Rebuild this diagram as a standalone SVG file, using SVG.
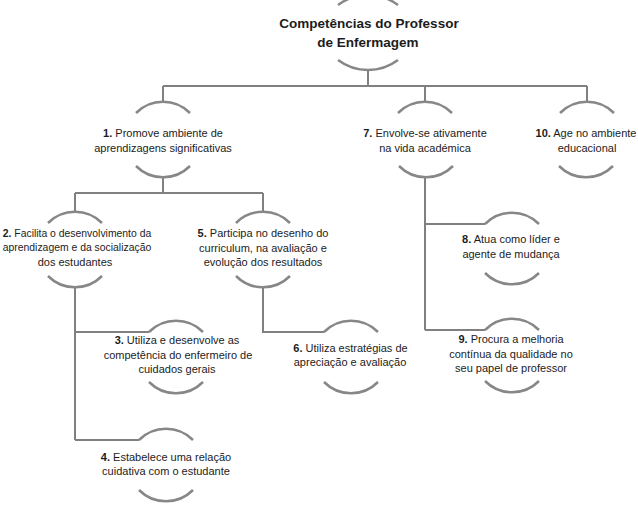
<svg xmlns="http://www.w3.org/2000/svg" xmlns:xlink="http://www.w3.org/1999/xlink" width="638" height="520" viewBox="0 0 638 520">
<style>
.arc{fill:none;stroke:#878787;stroke-width:2.5}
.ln{fill:none;stroke:#808080;stroke-width:2}
text{font-family:"Liberation Sans",Arial,sans-serif;font-size:11px;fill:#1c1c1c;text-anchor:middle}
.title{font-size:13.5px;font-weight:bold}
.b{font-weight:bold}
.sm{font-size:10.4px}
</style>
<defs>
<path id="top" class="arc" d="M-27,0 A38 38 0 0 1 27,0"/>
<path id="bot" class="arc" d="M-27,0 A38 38 0 0 0 27,0"/>
</defs>
<rect width="638" height="520" fill="#ffffff"/>
<g id="connectors">
<path class="ln" d="M368,70 V86 M163,86 H587 M163,86 V102 M425,86 V102 M587,86 V102"/>
<path class="ln" d="M163,177 V193 M75,193 H263 M75,193 V212 M263,193 V212"/>
<path class="ln" d="M75,287 V440 M75,332 H149 M75,440 H139"/>
<path class="ln" d="M263,287 V332 H324"/>
<path class="ln" d="M425,177 V330 M425,224 H485 M425,330 H485"/>
</g>
<g id="title">
<path class="arc" d="M338,5 A50 50 0 0 1 398,5"/>
<path class="arc" d="M338,60 A50 50 0 0 0 398,60"/>
<text class="title" x="369" y="28">Competências do Professor</text>
<text class="title" x="368" y="46.5">de Enfermagem</text>
</g>
<g id="n1">
<use xlink:href="#top" x="163" y="113"/>
<use xlink:href="#bot" x="163" y="166"/>
<text x="163" y="136.5"><tspan class="b">1.</tspan> Promove ambiente de</text>
<text x="163" y="151.5">aprendizagens significativas</text>
</g>
<g id="n7">
<use xlink:href="#top" x="425" y="113"/>
<use xlink:href="#bot" x="426" y="166"/>
<text x="425" y="137"><tspan class="b">7.</tspan> Envolve-se ativamente</text>
<text x="425" y="152">na vida académica</text>
</g>
<g id="n10">
<use xlink:href="#top" x="587" y="113"/>
<use xlink:href="#bot" x="586" y="166"/>
<text x="586" y="137"><tspan class="b">10.</tspan> Age no ambiente</text>
<text x="587" y="152">educacional</text>
</g>
<g id="n2">
<use xlink:href="#top" x="75" y="223"/>
<use xlink:href="#bot" x="75" y="276"/>
<text class="sm" x="77" y="236.5"><tspan class="b">2.</tspan> Facilita o desenvolvimento da</text>
<text class="sm" x="77" y="251">aprendizagem e da socialização</text>
<text x="75" y="265.5">dos estudantes</text>
</g>
<g id="n5">
<use xlink:href="#top" x="263" y="223"/>
<use xlink:href="#bot" x="263" y="276"/>
<text x="263" y="237"><tspan class="b">5.</tspan> Participa no desenho do</text>
<text x="263" y="251.5">curriculum, na avaliação e</text>
<text x="263" y="266">evolução dos resultados</text>
</g>
<g id="n3">
<use xlink:href="#top" x="176" y="332"/>
<use xlink:href="#bot" x="176" y="382"/>
<text x="177" y="344"><tspan class="b">3.</tspan> Utiliza e desenvolve as</text>
<text x="178" y="358.5">competência do enfermeiro de</text>
<text x="177" y="373">cuidados gerais</text>
</g>
<g id="n6">
<use xlink:href="#top" x="351" y="332"/>
<use xlink:href="#bot" x="351" y="382"/>
<text x="350.5" y="351.5"><tspan class="b">6.</tspan> Utiliza estratégias de</text>
<text x="350" y="366">apreciação e avaliação</text>
</g>
<g id="n4">
<use xlink:href="#top" x="166" y="440"/>
<use xlink:href="#bot" x="166" y="490"/>
<text x="166" y="460.5"><tspan class="b">4.</tspan> Estabelece uma relação</text>
<text x="166" y="475">cuidativa com o estudante</text>
</g>
<g id="n8">
<use xlink:href="#top" x="512" y="224"/>
<use xlink:href="#bot" x="512" y="273"/>
<text x="511" y="243"><tspan class="b">8.</tspan> Atua como líder e</text>
<text x="511" y="258">agente de mudança</text>
</g>
<g id="n9">
<use xlink:href="#top" x="512" y="330"/>
<use xlink:href="#bot" x="512" y="381"/>
<text x="511" y="343"><tspan class="b">9.</tspan> Procura a melhoria</text>
<text x="511" y="357.5">contínua da qualidade no</text>
<text x="511" y="372">seu papel de professor</text>
</g>
</svg>
